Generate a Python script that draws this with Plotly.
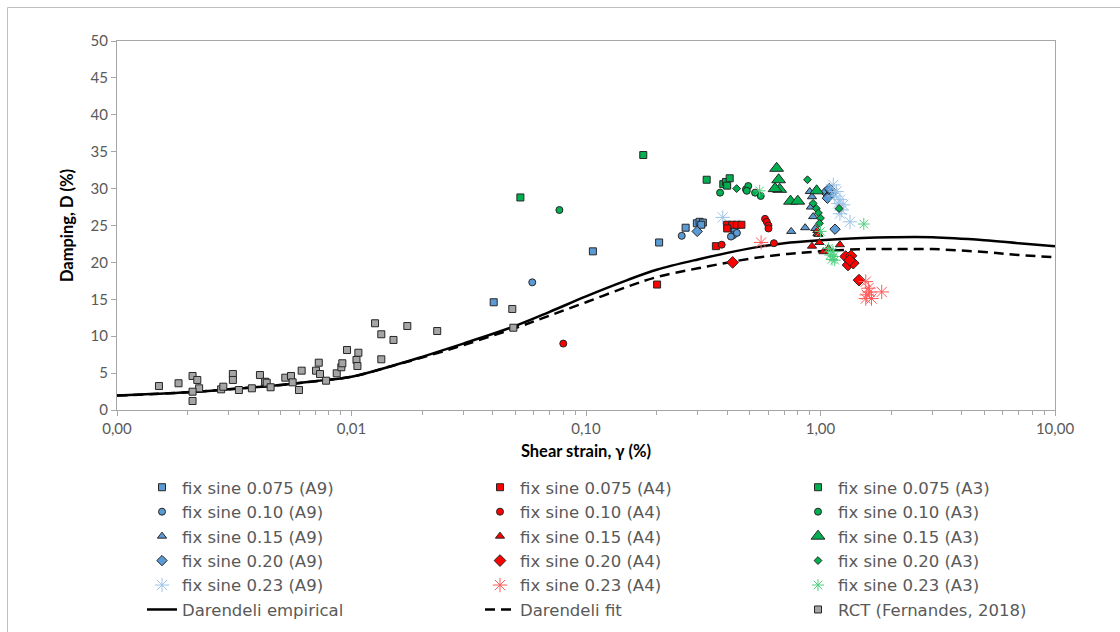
import plotly.graph_objects as go

# ---------------- data ----------------
x_ticks = [0.001, 0.01, 0.1, 1, 10]
x_ticktext = ["0,00", "0,01", "0,10", "1,00", "10,00"]

# A9 (blue)
a9_075_x = [0.0404, 0.107, 0.205, 0.266, 0.297, 0.305, 0.315, 0.310]
a9_075_y = [14.6, 21.5, 22.7, 24.7, 25.3, 25.5, 25.4, 25.1]
a9_010_x = [0.059, 0.256, 0.420, 0.430, 0.425, 0.415, 0.440]
a9_010_y = [17.3, 23.6, 24.7, 24.3, 23.7, 23.5, 24.0]
a9_015_x = [0.75, 0.86, 0.90, 0.92, 0.93, 0.95, 0.91, 0.97]
a9_015_y = [24.2, 24.7, 29.6, 28.9, 26.2, 24.6, 27.5, 23.9]
a9_020_x = [0.298, 1.05, 1.08, 1.10, 1.12, 1.07, 1.09, 1.153]
a9_020_y = [24.2, 29.5, 29.0, 29.8, 29.3, 28.7, 30.0, 24.5]
a9_023_x = [0.383, 1.134, 1.17, 1.211, 1.25, 1.23, 1.21, 1.336, 1.15, 1.19]
a9_023_y = [26.1, 30.5, 29.6, 28.5, 27.8, 27.1, 26.6, 25.5, 29.0, 28.0]

# A4 (red)
a4_075_x = [0.201, 0.358, 0.400, 0.420, 0.440, 0.460, 0.400]
a4_075_y = [17.0, 22.2, 25.1, 25.1, 25.1, 25.1, 24.6]
a4_010_x = [0.080, 0.379, 0.580, 0.590, 0.600, 0.600, 0.633]
a4_010_y = [9.0, 22.4, 25.9, 25.5, 25.0, 24.6, 22.6]
a4_015_x = [0.97, 0.98, 0.99, 0.92, 1.03, 1.08, 1.21]
a4_015_y = [24.3, 23.8, 22.7, 22.2, 21.45, 21.9, 22.4]
a4_020_x = [0.422, 1.28, 1.35, 1.31, 1.38, 1.46, 1.33]
a4_020_y = [20.0, 20.8, 20.9, 19.65, 19.9, 17.6, 20.3]
a4_023_x = [0.558, 1.574, 1.62, 1.56, 1.65, 1.824, 1.56, 1.60]
a4_023_y = [22.7, 15.6, 16.0, 15.1, 15.1, 16.0, 17.4, 16.5]

# A3 (green)
a3_075_x = [0.0525, 0.1755, 0.327, 0.385, 0.395, 0.410, 0.400]
a3_075_y = [28.8, 34.55, 31.2, 30.6, 30.9, 31.4, 30.4]
a3_010_x = [0.077, 0.373, 0.481, 0.492, 0.485, 0.526, 0.556]
a3_010_y = [27.1, 29.45, 29.9, 30.35, 29.7, 29.45, 29.0]
a3_015_x = [0.65, 0.663, 0.67, 0.64, 0.745, 0.80, 0.963]
a3_015_y = [32.75, 31.2, 29.9, 30.0, 28.3, 28.3, 29.7]
a3_020_x = [0.439, 0.88, 0.93, 0.96, 0.98, 1.00, 0.99, 1.20]
a3_020_y = [30.0, 31.2, 28.0, 27.3, 26.7, 26.0, 25.3, 27.3]
a3_023_x = [0.55, 1.00, 1.53, 1.08, 1.10, 1.12, 1.14, 1.13, 1.15]
a3_023_y = [29.7, 24.2, 25.2, 21.9, 21.0, 20.4, 20.8, 21.5, 20.3]

# RCT (Fernandes, 2018)
rct_x = [0.00151, 0.00183, 0.00210, 0.00220, 0.00224, 0.00210, 0.00210, 0.00278,
         0.00284, 0.00312, 0.00312, 0.00331, 0.00376, 0.00407, 0.00428, 0.00435,
         0.00452, 0.00522, 0.00552, 0.00561, 0.00597, 0.00613, 0.00706, 0.00725,
         0.00734, 0.00779, 0.00865, 0.00905, 0.00914, 0.00957, 0.0105, 0.0106,
         0.0107, 0.0126, 0.0134, 0.0134, 0.0151, 0.0173, 0.0232, 0.0485, 0.0490]
rct_y = [3.25, 3.62, 4.61, 4.07, 2.94, 2.48, 1.22, 2.80,
         3.16, 4.88, 4.07, 2.71, 2.94, 4.74, 3.83, 3.70,
         3.08, 4.38, 4.61, 3.75, 2.71, 5.33, 5.33, 6.41,
         4.88, 3.97, 4.97, 5.79, 6.33, 8.13, 6.78, 5.96,
         7.76, 11.75, 10.26, 6.87, 9.49, 11.38, 10.70, 13.69, 11.15]

# Darendeli curves
dar_x = [0.001, 0.002, 0.003, 0.005, 0.007, 0.01, 0.015, 0.02, 0.03, 0.05, 0.07,
         0.1, 0.15, 0.2, 0.3, 0.5, 0.7, 1, 1.5, 2, 3, 5, 7, 10]
dar_emp_y = [1.95, 2.4, 2.8, 3.4, 3.9, 4.5, 6.0, 7.2, 9.0, 11.4, 13.3,
             15.4, 17.6, 19.0, 20.4, 21.9, 22.6, 23.0, 23.3, 23.4, 23.4, 23.0, 22.6, 22.2]
dar_fit_y = [1.95, 2.4, 2.8, 3.4, 3.9, 4.5, 6.0, 7.1, 8.8, 11.1, 12.8,
             14.6, 16.7, 18.0, 19.2, 20.5, 21.1, 21.5, 21.8, 21.8, 21.8, 21.4, 21.0, 20.7]

# ---------------- styles ----------------
BLUE, RED, GREEN, GRAY = "#5B9BD5", "#FF0000", "#00B050", "#A5A5A5"
BLUE_L, RED_L, GREEN_L = "#9DC3E6", "#FF5B5B", "#4CD07D"
EDGE = "#262626"
AXIS = "#A6A6A6"
TXT = "#595959"
FONT = "Lato"
LEG_FONT = "DejaVu Sans"

fig = go.Figure()

# lines first (drawn beneath markers)
fig.add_trace(go.Scatter(x=dar_x, y=dar_emp_y, mode="lines", name="Darendeli empirical",
                         line=dict(color="black", width=2.5, shape="spline"),
                         legend="legend", legendrank=10))
fig.add_trace(go.Scatter(x=dar_x, y=dar_fit_y, mode="lines", name="Darendeli fit",
                         line=dict(color="black", width=2.5, dash="10px,6px", shape="spline"),
                         legend="legend2", legendrank=10))


def add_markers(x, y, name, symbol, color, size, legend, rank, star=False):
    if star:
        marker = dict(symbol="asterisk-open", color=color, size=size,
                      line=dict(color=color, width=1))
    else:
        marker = dict(symbol=symbol, color=color, size=size, line=dict(color=EDGE, width=1))
    fig.add_trace(go.Scatter(x=x, y=y, mode="markers", name=name, marker=marker,
                             legend=legend, legendrank=rank))


add_markers(rct_x, rct_y, "RCT (Fernandes, 2018)", "square", GRAY, 7, "legend3", 10)

add_markers(a9_075_x, a9_075_y, "fix sine 0.075 (A9)", "square", BLUE, 7, "legend", 1)
add_markers(a9_010_x, a9_010_y, "fix sine 0.10 (A9)", "circle", BLUE, 7, "legend", 2)
add_markers(a9_015_x, a9_015_y, "fix sine 0.15 (A9)", "triangle-up", BLUE, 8, "legend", 3)
add_markers(a9_020_x, a9_020_y, "fix sine 0.20 (A9)", "diamond", BLUE, 8, "legend", 4)
add_markers(a9_023_x, a9_023_y, "fix sine 0.23 (A9)", None, BLUE_L, 12, "legend", 5, star=True)

add_markers(a4_075_x, a4_075_y, "fix sine 0.075 (A4)", "square", RED, 7, "legend2", 1)
add_markers(a4_010_x, a4_010_y, "fix sine 0.10 (A4)", "circle", RED, 7, "legend2", 2)
add_markers(a4_015_x, a4_015_y, "fix sine 0.15 (A4)", "triangle-up", RED, 8, "legend2", 3)
add_markers(a4_020_x, a4_020_y, "fix sine 0.20 (A4)", "diamond", RED, 9, "legend2", 4)
add_markers(a4_023_x, a4_023_y, "fix sine 0.23 (A4)", None, RED_L, 12, "legend2", 5, star=True)

add_markers(a3_075_x, a3_075_y, "fix sine 0.075 (A3)", "square", GREEN, 7, "legend3", 1)
add_markers(a3_010_x, a3_010_y, "fix sine 0.10 (A3)", "circle", GREEN, 7, "legend3", 2)
add_markers(a3_015_x, a3_015_y, "fix sine 0.15 (A3)", "triangle-up", GREEN, 12, "legend3", 3)
add_markers(a3_020_x, a3_020_y, "fix sine 0.20 (A3)", "diamond", GREEN, 6, "legend3", 4)
add_markers(a3_023_x, a3_023_y, "fix sine 0.23 (A3)", None, GREEN_L, 10, "legend3", 5, star=True)

PL, PR, PT, PB = 117, 65, 41, 222
W, H = 1120, 632
pw, ph = W - PL - PR, H - PT - PB


def px_to_paper_x(px):
    return (px - PL) / pw


def px_to_paper_y(py):
    return (H - PB - py) / ph


legend_common = dict(orientation="v", yanchor="top", xanchor="left",
                     font=dict(family=LEG_FONT, size=16.5, color=TXT),
                     bgcolor="rgba(0,0,0,0)", borderwidth=0, tracegroupgap=0,
                     itemsizing="trace")

minor_vals = [m * 10 ** e for e in range(-3, 1) for m in range(2, 10)]

fig.update_layout(
    width=W, height=H,
    margin=dict(l=PL, r=PR, t=PT, b=PB, autoexpand=False),
    paper_bgcolor="white", plot_bgcolor="white",
    font=dict(family=FONT, color=TXT),
    showlegend=True,
    legend=dict(x=px_to_paper_x(142), y=px_to_paper_y(470), **legend_common),
    legend2=dict(x=px_to_paper_x(480), y=px_to_paper_y(470), **legend_common),
    legend3=dict(x=px_to_paper_x(798), y=px_to_paper_y(470), **legend_common),
    xaxis=dict(type="log", range=[-3, 1], tickvals=x_ticks, ticktext=x_ticktext,
               ticks="outside", ticklen=5, tickcolor=AXIS, showline=True, linecolor=AXIS,
               linewidth=1, mirror=True, showgrid=False, zeroline=False,
               tickfont=dict(family=FONT, size=15, color=TXT),
               minor=dict(ticks="outside", ticklen=4, tickcolor=AXIS, tickvals=minor_vals,
                          showgrid=False),
               title=dict(text="Shear strain, γ (%)", standoff=9,
                          font=dict(family=FONT, size=16.5, color="black", weight="bold"))),
    yaxis=dict(range=[0, 50], dtick=5, tick0=0, ticks="outside", ticklen=5, tickcolor=AXIS,
               showline=True, linecolor=AXIS, linewidth=1, mirror=True, showgrid=False,
               zeroline=False, tickfont=dict(family=FONT, size=15, color=TXT),
               title=dict(text="Damping, D (%)", standoff=12,
                          font=dict(family=FONT, size=16.5, color="black", weight="bold"))),
    shapes=[dict(type="rect", xref="paper", yref="paper",
                 x0=px_to_paper_x(7.5), y0=-1.5,
                 x1=1.6, y1=px_to_paper_y(7.5),
                 line=dict(color="#BFBFBF", width=1), layer="below")],
)

fig.write_html("out.html")
